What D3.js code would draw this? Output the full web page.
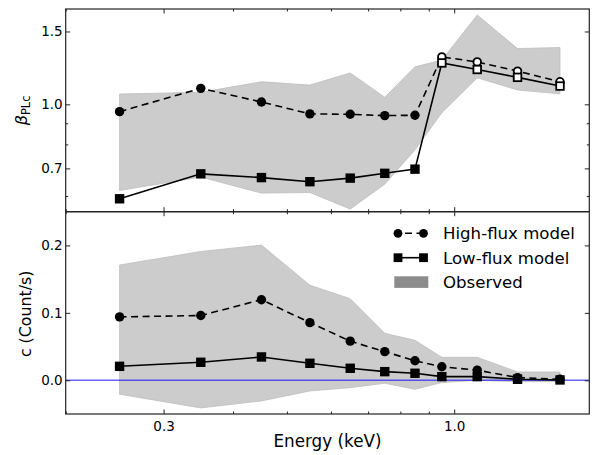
<!DOCTYPE html>
<html>
<head>
<meta charset="utf-8">
<script src="https://cdn.jsdelivr.net/npm/d3@7"></script>
<style>
  html, body { margin: 0; padding: 0; background: #fff; }
  svg { display: block; }
  text { font-family: "DejaVu Sans", sans-serif; fill: #000; }
</style>
</head>
<body>
<svg id="chart" width="597" height="455"></svg>
<script>
// Energy bin centres (keV)
const energy = [0.25, 0.35, 0.45, 0.55, 0.65, 0.75, 0.85, 0.95, 1.1, 1.3, 1.55];

// Upper panel: beta_PLc
const betaHigh = [0.960, 1.093, 1.013, 0.948, 0.946, 0.939, 0.941, 1.302, 1.266, 1.203, 1.134];
const betaLow  = [0.591, 0.679, 0.665, 0.650, 0.663, 0.681, 0.697, 1.259, 1.214, 1.162, 1.107];
const betaObsUpper = [1.059, 1.069, 1.134, 1.113, 1.191, 1.040, 1.232, 1.279, 1.644, 1.364, 1.372];
const betaObsLower = [0.619, 0.667, 0.610, 0.612, 0.558, 0.641, 0.776, 0.954, 1.159, 1.083, 1.060];

// Lower panel: constant c (Count/s)
const countHigh = [0.094, 0.096, 0.1195, 0.0855, 0.058, 0.0425, 0.029, 0.020, 0.015, 0.004, 0.0015];
const countLow  = [0.0207, 0.0267, 0.0346, 0.0252, 0.0178, 0.0128, 0.0104, 0.0054, 0.0054, 0.0015, 0.0005];
const countObsUpper = [0.171, 0.191, 0.2005, 0.141, 0.121, 0.0696, 0.0593, 0.034, 0.034, 0.0123, 0.0123];
const countObsLower = [-0.0207, -0.041, -0.0306, -0.0158, -0.0109, -0.0044, -0.0133, -0.0034, 0.000, -0.002, -0.002];

// Above this energy the beta markers are drawn hollow
const hollowAbove = 0.9;

// Tick values and labels
const xMajorTicks = [0.3, 1.0];
const xMinorTicks = [0.2, 0.4, 0.5, 0.6, 0.7, 0.8, 0.9];
const betaMajorTicks = [0.7, 1.0, 1.5];
const betaMinorTicks = [0.6, 0.8, 0.9];
const countTicks = [0.0, 0.1, 0.2];
const legendLabels = ["High-flux model", "Low-flux model", "Observed"];

const svg = d3.select("#chart");

const L = 65.7, R = 589.3, T = 9, M = 211.7, B = 414;

const x = d3.scaleLog().domain([0.2, 1.75]).range([L, R]);
const yTop = d3.scaleLog().domain([0.55, 1.7]).range([M, T]);
const yBot = d3.scaleLinear().domain([-0.05, 0.25]).range([B, M]);

const defs = svg.append("defs");
defs.append("clipPath").attr("id", "clipTop").append("rect")
  .attr("x", L).attr("y", T).attr("width", R - L).attr("height", M - T);
defs.append("clipPath").attr("id", "clipBot").append("rect")
  .attr("x", L).attr("y", M).attr("width", R - L).attr("height", B - M);

const bandFill = "#cccccc";
const bandEdge = "#bebebe";

// Shaded observed range
function drawBand(g, yScale, upper, lower, high, low) {
  const rows = energy.map((e, i) => ({ e, up: upper[i], lo: lower[i], hi: high[i], lw: low[i] }));
  const area = d3.area().x(d => x(d.e)).y0(d => yScale(d.lo)).y1(d => yScale(d.up));
  g.append("path").datum(rows).attr("d", area)
    .attr("fill", bandFill).attr("stroke", bandEdge).attr("stroke-width", 0.8);
  return rows;
}

// Model curves with their markers
function drawSeries(g, yScale, rows, hollow) {
  const lineHigh = d3.line().x(d => x(d.e)).y(d => yScale(d.hi));
  const lineLow = d3.line().x(d => x(d.e)).y(d => yScale(d.lw));
  g.append("path").datum(rows).attr("d", lineHigh)
    .attr("fill", "none").attr("stroke", "#000").attr("stroke-width", 1.6)
    .attr("stroke-dasharray", "7,4.5");
  g.append("path").datum(rows).attr("d", lineLow)
    .attr("fill", "none").attr("stroke", "#000").attr("stroke-width", 1.6);
  const isHollow = d => hollow && d.e > hollowAbove;
  g.selectAll("circle.hi").data(rows).join("circle").attr("class", "hi")
    .attr("cx", d => x(d.e)).attr("cy", d => yScale(d.hi))
    .attr("r", d => isHollow(d) ? 3.8 : 4.7)
    .attr("fill", d => isHollow(d) ? "#fff" : "#000")
    .attr("stroke", "#000").attr("stroke-width", d => isHollow(d) ? 1.8 : 0);
  const s = 9.4, sh = 7.6;
  g.selectAll("rect.lo").data(rows).join("rect").attr("class", "lo")
    .attr("x", d => x(d.e) - (isHollow(d) ? sh : s) / 2)
    .attr("y", d => yScale(d.lw) - (isHollow(d) ? sh : s) / 2)
    .attr("width", d => isHollow(d) ? sh : s)
    .attr("height", d => isHollow(d) ? sh : s)
    .attr("fill", d => isHollow(d) ? "#fff" : "#000")
    .attr("stroke", "#000").attr("stroke-width", d => isHollow(d) ? 1.8 : 0);
}

// Upper panel
const gTop = svg.append("g").attr("clip-path", "url(#clipTop)");
const rowsTop = drawBand(gTop, yTop, betaObsUpper, betaObsLower, betaHigh, betaLow);
drawSeries(gTop, yTop, rowsTop, true);

// Lower panel
const gBot = svg.append("g").attr("clip-path", "url(#clipBot)");
const rowsBot = drawBand(gBot, yBot, countObsUpper, countObsLower, countHigh, countLow);
gBot.append("line")
  .attr("x1", L).attr("x2", R).attr("y1", yBot(0)).attr("y2", yBot(0))
  .attr("stroke", "rgba(0,0,255,0.6)").attr("stroke-width", 1.6);
drawSeries(gBot, yBot, rowsBot, false);

// Axes with inward ticks
const majorLen = 4.5, minorLen = 2.5, tickFont = 13.5;
function styleAxis(sel) {
  sel.select(".domain").remove();
  sel.selectAll(".tick line").attr("stroke", "#222").attr("stroke-width", 1);
  sel.selectAll(".tick text").style("font-size", tickFont + "px").style("font-family", "DejaVu Sans").attr("fill", "#000");
}
function addAxis(axis, tx, ty) {
  svg.append("g").attr("transform", `translate(${tx},${ty})`).call(axis).call(styleAxis);
}
const noLabel = () => "";

// x axes: top of upper panel, shared boundary, bottom of lower panel
[[d3.axisTop, T], [d3.axisBottom, M], [d3.axisTop, M], [d3.axisBottom, B]].forEach(([fn, yy], i) => {
  addAxis(fn(x).tickValues(xMinorTicks).tickSize(-minorLen).tickFormat(noLabel), 0, yy);
  const major = fn(x).tickValues(xMajorTicks).tickSize(-majorLen).tickPadding(7);
  addAxis(i === 3 ? major.tickFormat(d3.format(".1f")) : major.tickFormat(noLabel), 0, yy);
});

// Upper y axes
addAxis(d3.axisLeft(yTop).tickValues(betaMinorTicks).tickSize(-minorLen).tickFormat(noLabel), L, 0);
addAxis(d3.axisLeft(yTop).tickValues(betaMajorTicks).tickSize(-majorLen).tickPadding(3).tickFormat(d3.format(".1f")), L, 0);
addAxis(d3.axisRight(yTop).tickValues(betaMinorTicks).tickSize(-minorLen).tickFormat(noLabel), R, 0);
addAxis(d3.axisRight(yTop).tickValues(betaMajorTicks).tickSize(-majorLen).tickFormat(noLabel), R, 0);

// Lower y axes
addAxis(d3.axisLeft(yBot).tickValues(countTicks).tickSize(-majorLen).tickPadding(3).tickFormat(d3.format(".1f")), L, 0);
addAxis(d3.axisRight(yBot).tickValues(countTicks).tickSize(-majorLen).tickFormat(noLabel), R, 0);

// Frames
[[T, M], [M, B]].forEach(([a, b]) => {
  svg.append("rect").attr("x", L).attr("y", a).attr("width", R - L).attr("height", b - a)
    .attr("fill", "none").attr("stroke", "#222").attr("stroke-width", 1.2);
});

// Axis titles
svg.append("text").attr("x", (L + R) / 2).attr("y", 447)
  .attr("text-anchor", "middle").style("font-size", "16.8px").text("Energy (keV)");

svg.append("text").attr("transform", `translate(31,${(M + B) / 2 + 1}) rotate(-90)`)
  .attr("text-anchor", "middle").style("font-size", "15.8px").text("c (Count/s)");

const betaLabel = svg.append("text")
  .attr("transform", `translate(26.5,${(T + M) / 2}) rotate(-90)`)
  .attr("text-anchor", "middle");
betaLabel.append("tspan").style("font-style", "italic").style("font-size", "16px").text("β");
betaLabel.append("tspan").style("font-size", "11.5px").attr("dy", 3).text("PLc");

// Legend
const legX = 398, legX2 = 423.5, legTextX = 443, legY0 = 233.3, legDy = 24.4;
const leg = svg.append("g");
legendLabels.forEach((lab, i) => {
  const yy = legY0 + i * legDy;
  if (i === 0) {
    leg.append("line").attr("x1", legX).attr("x2", legX2).attr("y1", yy).attr("y2", yy)
      .attr("stroke", "#000").attr("stroke-width", 1.6).attr("stroke-dasharray", "7,4.5")
      .attr("stroke-dashoffset", 4.5);
    [legX, legX2].forEach(cx => leg.append("circle").attr("cx", cx).attr("cy", yy).attr("r", 4.4).attr("fill", "#000"));
  } else if (i === 1) {
    leg.append("line").attr("x1", legX).attr("x2", legX2).attr("y1", yy).attr("y2", yy)
      .attr("stroke", "#000").attr("stroke-width", 1.6);
    [legX, legX2].forEach(cx => leg.append("rect").attr("x", cx - 4.4).attr("y", yy - 4.4)
      .attr("width", 8.8).attr("height", 8.8).attr("fill", "#000"));
  } else {
    leg.append("rect").attr("x", 394.3).attr("y", yy - 5.8).attr("width", 34).attr("height", 11.6)
      .attr("fill", "#8c8c8c");
  }
  leg.append("text").attr("x", legTextX).attr("y", yy + 6).style("font-size", "16.6px").text(lab);
});
</script>
</body>
</html>
